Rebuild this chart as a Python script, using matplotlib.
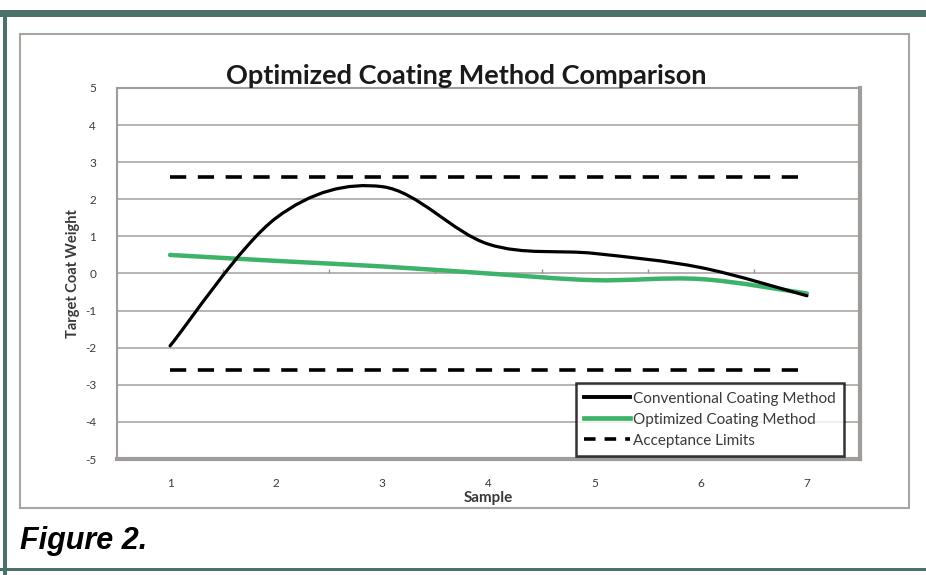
import numpy as np
import matplotlib.pyplot as plt
from matplotlib.path import Path
from matplotlib.patches import PathPatch, Rectangle
from matplotlib.lines import Line2D

samples = [1, 2, 3, 4, 5, 6, 7]
conventional = [-1.95, 1.5, 2.34, 0.79, 0.54, 0.16, -0.6]
optimized = [0.5, 0.34, 0.19, 0.0, -0.18, -0.15, -0.54]
upper_limit = 2.6
lower_limit = -2.6
y_ticks = [-5, -4, -3, -2, -1, 0, 1, 2, 3, 4, 5]

teal = '#4a716c'
grid_col = '#b3aeac'
text_col = '#3a3a3a'
font = ['Lato', 'DejaVu Sans']


def smooth_path(xs, ys):
    # bezier through every point, control points like a spreadsheet "smoothed line"
    pts = np.column_stack([xs, ys]).astype(float)
    verts = [pts[0]]
    codes = [Path.MOVETO]
    n = len(pts)
    for i in range(n - 1):
        p0 = pts[i - 1] if i > 0 else pts[i]
        p1 = pts[i]
        p2 = pts[i + 1]
        p3 = pts[i + 2] if i + 2 < n else pts[i + 1]
        c1 = p1 + (p2 - p0) / 6.0
        c2 = p2 - (p3 - p1) / 6.0
        verts += [c1, c2, p2]
        codes += [Path.CURVE4] * 3
    return Path(verts, codes)


fig = plt.figure(figsize=(9.26, 5.75), dpi=100)

# page decoration: teal rules and the grey chart frame
deco = [
    Rectangle((0, 1 - 17 / 575), 1, 7 / 575, facecolor=teal, edgecolor='none'),
    Rectangle((3 / 926, 0), 4 / 926, 1 - 10 / 575, facecolor=teal, edgecolor='none'),
    Rectangle((0, 4 / 575), 1, 3 / 575, facecolor=teal, edgecolor='none'),
    Rectangle((20 / 926, 1 - 508 / 575), 889 / 926, 474 / 575, facecolor='white',
              edgecolor='#a8a4a2', linewidth=1.5),
]
for p in deco:
    p.set_transform(fig.transFigure)
    p.set_zorder(-5)
    fig.patches.append(p)

ax = fig.add_axes([117 / 926, 1 - 459 / 575, 743 / 926, 371 / 575])
ax.set_zorder(2)
ax.set_xlim(0.5, 7.5)
ax.set_ylim(-5, 5)

for v in y_ticks:
    ax.axhline(v, color=grid_col, linewidth=1.3, zorder=1)
ax.vlines(np.arange(1.5, 7.5, 1.0), 0, 0.12, color='#9a9694', linewidth=1, zorder=1)

for side in ax.spines.values():
    side.set_color('#a09c9a')
    side.set_linewidth(1.5)
ax.spines['right'].set_linewidth(3)
ax.spines['bottom'].set_linewidth(3)

ax.plot([samples[0], samples[-1]], [upper_limit, upper_limit], color='black',
        linewidth=2.6, dashes=(4.5, 3.2), zorder=3)
ax.plot([samples[0], samples[-1]], [lower_limit, lower_limit], color='black',
        linewidth=2.6, dashes=(4.5, 3.2), zorder=3)

ax.add_patch(PathPatch(smooth_path(samples, optimized), facecolor='none',
                       edgecolor='#3db36a', linewidth=3.2, capstyle='round', zorder=4))
ax.add_patch(PathPatch(smooth_path(samples, conventional), facecolor='none',
                       edgecolor='black', linewidth=2.3, capstyle='round', zorder=5))

ax.set_xticks(samples)
ax.set_xticklabels([str(s) for s in samples], family=font, fontsize=8.5, color=text_col)
ax.set_yticks(y_ticks)
ax.set_yticklabels([str(v) for v in y_ticks], family=font, fontsize=8.5, color=text_col)
ax.tick_params(axis='both', length=0)
ax.tick_params(axis='x', pad=14)
ax.tick_params(axis='y', pad=15)

fig.text(488 / 926, 1 - 498 / 575, 'Sample', family=font, fontsize=11, fontweight='bold',
         color=text_col, ha='center', va='center')
fig.text(73 / 926, 1 - 274 / 575, 'Target Coat Weight', family=font, fontsize=10.5,
         fontweight='bold', color=text_col, ha='center', va='center', rotation=90)
fig.text(466 / 926, 1 - 76 / 575, 'Optimized Coating Method Comparison', family=font,
         fontsize=19.5, fontweight='bold', color='#1a1a1a', ha='center', va='center')
fig.text(20 / 926, 1 - 541 / 575, 'Figure 2.',
         family=['Liberation Sans Narrow', 'Liberation Sans', 'DejaVu Sans'],
         fontsize=22, fontweight='bold', style='italic', color='black',
         ha='left', va='center')

handles = [Line2D([], [], color='black', linewidth=2.8),
           Line2D([], [], color='#3db36a', linewidth=3.4),
           Line2D([], [], color='black', linewidth=2.6, dashes=(3.2, 2.5))]
labels = ['Conventional Coating Method', 'Optimized Coating Method', 'Acceptance Limits']
leg = ax.legend(handles, labels, loc='lower right', bbox_to_anchor=(844 / 926, 1 - 456 / 575),
                bbox_transform=fig.transFigure, frameon=True, fancybox=False,
                prop={'family': font, 'size': 11}, handlelength=3.0, handletextpad=0.2,
                labelspacing=0.45, borderpad=0.55, borderaxespad=0)
leg.get_frame().set_edgecolor('black')
leg.get_frame().set_linewidth(1.8)
for t in leg.get_texts():
    t.set_color(text_col)

fig.savefig('out.png', dpi=100)
